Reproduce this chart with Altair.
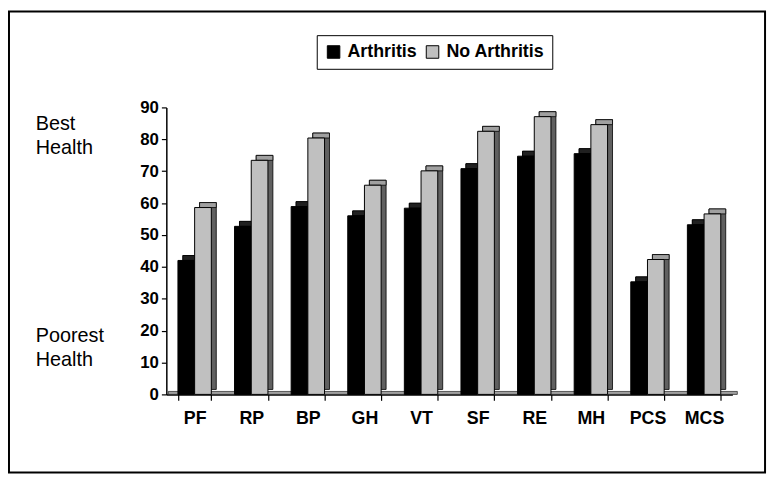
import altair as alt
import pandas as pd

categories = ["PF", "RP", "BP", "GH", "VT", "SF", "RE", "MH", "PCS", "MCS"]
arthritis = [42.0, 52.7, 58.9, 56.0, 58.4, 70.8, 74.7, 75.5, 35.3, 53.2]
no_arthritis = [58.6, 73.4, 80.4, 65.6, 70.1, 82.5, 87.1, 84.6, 42.3, 56.6]
series = ["Arthritis", "No Arthritis"]
front_colors = ["#000000", "#c0c0c0"]
side_colors = ["#000000", "#606060"]
top_colors = ["#202020", "#a0a0a0"]
y_ticks = list(range(0, 100, 10))

rows = []
for c, a, n in zip(categories, arthritis, no_arthritis):
    rows.append({"cat": c, "group": series[0], "value": a,
                 "side": side_colors[0], "top": top_colors[0]})
    rows.append({"cat": c, "group": series[1], "value": n,
                 "side": side_colors[1], "top": top_colors[1]})
df = pd.DataFrame(rows)

W, H = 572, 290
FONT = "Liberation Sans"
D = 5
P_IN, P_OUT = 0.41, 0.205
BW = W / len(categories) * (1 - P_IN)

x_axis = alt.Axis(title=None, labelAngle=0, tickBand="extent", ticks=True,
                  tickSize=6, labelPadding=9, labelFont=FONT, labelFontSize=18,
                  labelFontWeight="bold", labelColor="black", domainColor="black",
                  tickColor="black", domainWidth=1.5, tickWidth=1.2)
y_axis = alt.Axis(title=None, values=y_ticks, tickSize=5, labelPadding=3,
                  labelFont=FONT, labelFontSize=17, labelFontWeight="bold",
                  labelColor="black", domainColor="black", tickColor="black",
                  domainWidth=1.5, tickWidth=1.2, grid=False)

x_enc = alt.X("cat:N", sort=categories,
              scale=alt.Scale(paddingInner=P_IN, paddingOuter=P_OUT), axis=x_axis)
xo_front = alt.XOffset("group:N", sort=series,
                       scale=alt.Scale(paddingInner=0, range=[0, BW]))
xo_back = alt.XOffset("group:N", sort=series,
                      scale=alt.Scale(paddingInner=0, range=[D, BW + D]))
y_enc = alt.Y("value:Q", scale=alt.Scale(domain=[0, 90]), axis=y_axis)

base = alt.Chart(df)

side = base.mark_bar(yOffset=-D, y2Offset=-D, stroke="black",
                     strokeWidth=0.8).encode(
    x=x_enc, xOffset=xo_back, y=y_enc,
    fill=alt.Fill("side:N", scale=None))

top = base.mark_bar(yOffset=-D, y2Offset=0, stroke="black",
                    strokeWidth=0.8).encode(
    x=x_enc, xOffset=xo_back, y=y_enc, y2=alt.Y2("value:Q"),
    fill=alt.Fill("top:N", scale=None))

back = alt.layer(side, top).resolve_scale(xOffset="shared")

front = base.mark_bar(stroke="black", strokeWidth=1).encode(
    x=x_enc, xOffset=xo_front, y=y_enc,
    color=alt.Color("group:N", sort=series,
                    scale=alt.Scale(domain=series, range=front_colors),
                    legend=alt.Legend(title=None, orient="none", legendX=152,
                                      legendY=-73, direction="horizontal",
                                      strokeColor="black", fillColor="white",
                                      padding=8, labelFont=FONT, labelFontSize=18,
                                      labelFontWeight="bold", labelColor="black",
                                      symbolType="square", symbolSize=160,
                                      symbolStrokeColor="black",
                                      symbolStrokeWidth=1, columnPadding=6,
                                      labelOffset=5)))

one = pd.DataFrame({"k": [0]})

floor = alt.Chart(one).mark_rect(fill="#a0a0a0", stroke="black",
                                 strokeWidth=0.6).encode(
    x=alt.value(2), x2=alt.value(W + 5), y=alt.value(H - 3), y2=alt.value(H))

frame = alt.Chart(one).mark_rect(fill=None, stroke="black", strokeWidth=2).encode(
    x=alt.value(-159), x2=alt.value(605), y=alt.value(-97), y2=alt.value(369))

best = alt.Chart(one).mark_text(align="left", baseline="alphabetic", font=FONT,
                                fontSize=20, lineHeight=24, color="black").encode(
    x=alt.value(-132), y=alt.value(23), text=alt.value(["Best", "Health"]))

poor = alt.Chart(one).mark_text(align="left", baseline="alphabetic", font=FONT,
                                fontSize=20, lineHeight=24, color="black").encode(
    x=alt.value(-132), y=alt.value(237), text=alt.value(["Poorest", "Health"]))

chart = alt.layer(frame, floor, back, front, best, poor).resolve_scale(
    xOffset="independent"
).properties(
    width=W, height=H,
    background="white",
    autosize=alt.AutoSizeParams(type="none"),
    padding={"left": 160, "top": 98, "right": 37, "bottom": 79},
).configure_view(stroke=None)

chart.save("out.html", embed_options={"renderer": "svg", "actions": False})
